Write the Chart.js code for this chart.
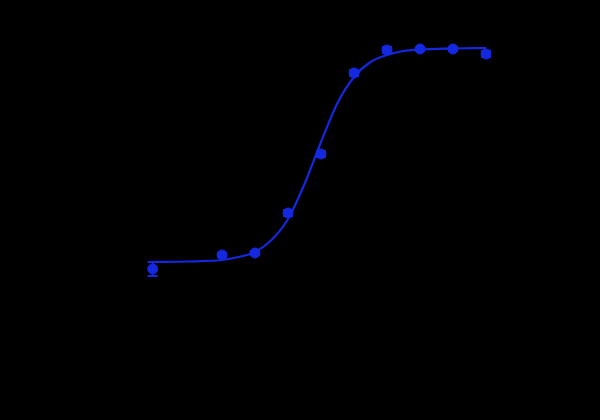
<!DOCTYPE html>
<html>
<head>
<meta charset="utf-8">
<script src="https://cdn.jsdelivr.net/npm/chart.js@4/dist/chart.umd.min.js"></script>
<style>
  html, body { margin: 0; padding: 0; background: #000; }
  #wrap { width: 600px; height: 420px; position: relative; }
</style>
</head>
<body>
<div id="wrap"><canvas id="doseChart"></canvas></div>
<script>
// measured points (log concentration vs response)
const doseX = [-2.1, 0, 1, 2, 3, 4, 5, 6, 7, 8];
const responseY = [1.01, 1.15, 1.17, 1.57, 2.16, 2.97, 3.20, 3.21, 3.21, 3.16];
const responseErr = [0.07, 0.02, 0.02, 0.03, 0.03, 0.03, 0.03, 0.02, 0.02, 0.03];

// fitted curve
const curveX = [-2.2, -1, 0, 0.5, 1, 1.5, 2, 2.5, 3, 3.5, 4, 4.5, 5, 5.5, 6, 7, 8];
const curveY = [1.08, 1.085, 1.10, 1.13, 1.18, 1.30, 1.51, 1.86, 2.28, 2.67, 2.93, 3.08, 3.15, 3.19, 3.205, 3.215, 3.22];

const blue = "#1428e0";

const errorBars = {
    id: "errorBars",
    afterDatasetsDraw(chart) {
        const ctx = chart.ctx;
        const xs = chart.scales.x;
        const ys = chart.scales.y;
        ctx.save();
        ctx.strokeStyle = blue;
        ctx.lineWidth = 2;
        doseX.forEach((x, i) => {
            const px = xs.getPixelForValue(x);
            const top = ys.getPixelForValue(responseY[i] + responseErr[i]);
            const bot = ys.getPixelForValue(responseY[i] - responseErr[i]);
            ctx.beginPath();
            ctx.moveTo(px, top); ctx.lineTo(px, bot);
            ctx.moveTo(px - 5, top); ctx.lineTo(px + 5, top);
            ctx.moveTo(px - 5, bot); ctx.lineTo(px + 5, bot);
            ctx.stroke();
        });
        ctx.restore();
    }
};

const ctx = document.getElementById("doseChart").getContext("2d");

new Chart(ctx, {
    type: "scatter",
    data: {
        datasets: [
            {
                label: "Fit",
                data: curveX.map((x, i) => ({ x: x, y: curveY[i] })),
                showLine: true,
                borderColor: blue,
                borderWidth: 2.2,
                pointRadius: 0,
                cubicInterpolationMode: "monotone"
            },
            {
                label: "Data",
                data: doseX.map((x, i) => ({ x: x, y: responseY[i] })),
                backgroundColor: blue,
                borderColor: blue,
                pointRadius: 5
            }
        ]
    },
    options: {
        responsive: true,
        maintainAspectRatio: false,
        animation: false,
        layout: { padding: { left: 123, right: 81, top: 30, bottom: 50 } },
        plugins: { legend: { display: false }, tooltip: { enabled: false } },
        scales: {
            x: { type: "linear", min: -3, max: 9, display: false },
            y: { min: 0, max: 3.4, display: false }
        }
    },
    plugins: [errorBars]
});
</script>
</body>
</html>
